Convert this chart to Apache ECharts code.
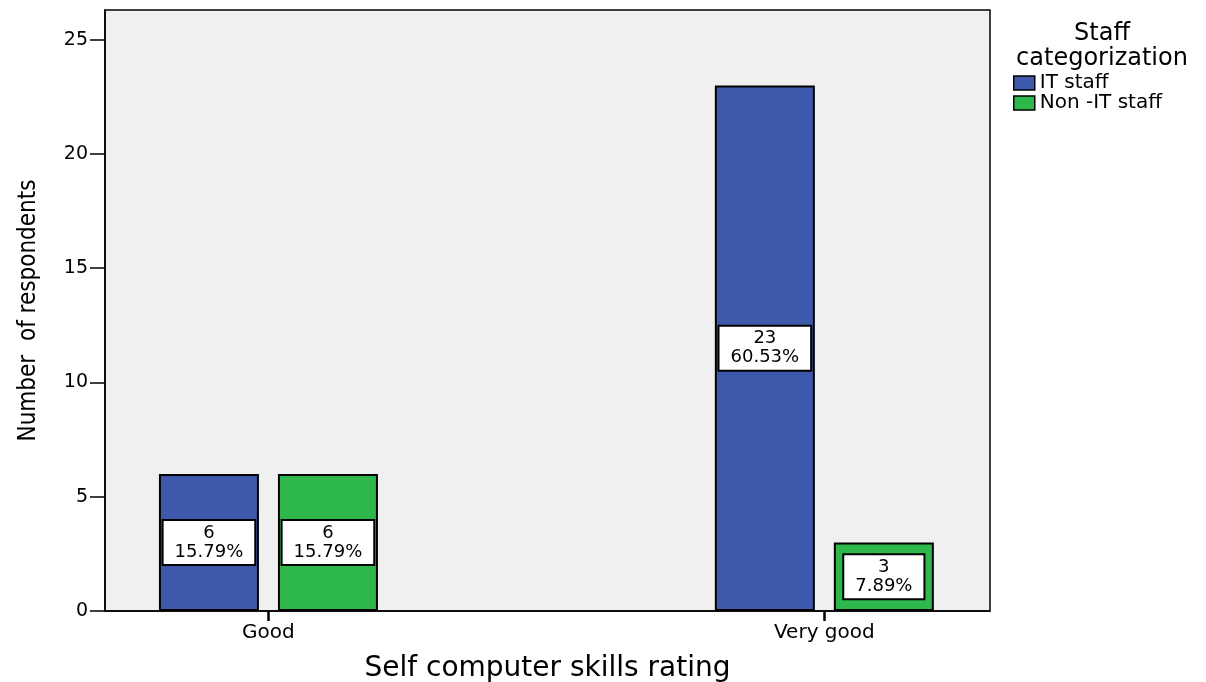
<!DOCTYPE html>
<html>
<head>
<meta charset="utf-8">
<script src="https://cdn.jsdelivr.net/npm/echarts@6/dist/echarts.min.js"></script>
<style>
html, body { margin: 0; padding: 0; background: #fff; }
#chart { width: 1206px; height: 682px; }
</style>
</head>
<body>
<div id="chart"></div>
<script>
// ratings on the x axis (placed at positions 1 and 2)
const ratings = ['Good', 'Very good']
const ratingPos = [1, 2]
const itStaff = [6, 23]
const nonItStaff = [6, 3]
const itPct = ['15.79%', '60.53%']
const nonItPct = ['15.79%', '7.89%']
const yTicks = [0, 5, 10, 15, 20, 25]

const font = '"DejaVu Sans", "Liberation Sans", sans-serif'

function pairs(values) {
	return values.map((v, i) => [ratingPos[i], v])
}

function labelOf(pcts) {
	return {
		show: true,
		position: 'inside',
		formatter: p => p.value[1] + '\n' + pcts[p.dataIndex],
		color: '#000',
		fontFamily: font,
		fontSize: 18,
		lineHeight: 19,
		backgroundColor: '#fff',
		borderColor: '#000',
		borderWidth: 2,
		padding: [3, 11, 2, 11]
	}
}

const chart = echarts.init(document.getElementById('chart'))
chart.setOption({
	animation: false,
	textStyle: { fontFamily: font },
	title: {
		text: 'Staff\ncategorization',
		left: 1097,
		top: 16,
		textAlign: 'center',
		textStyle: { fontFamily: font, fontSize: 24, fontWeight: 'normal', color: '#000', lineHeight: 25 }
	},
	legend: {
		orient: 'vertical',
		left: 1013,
		top: 73,
		padding: 0,
		itemWidth: 21,
		itemHeight: 14,
		itemGap: 0,
		itemStyle: { borderColor: '#000', borderWidth: 1.5 },
		icon: 'rect',
		textStyle: { fontFamily: font, fontSize: 20, color: '#000' },
		data: ['IT staff', 'Non -IT staff']
	},
	grid: {
		left: 105,
		top: 10,
		right: 216,
		bottom: 71,
		outerBoundsMode: 'none',
		show: true,
		backgroundColor: '#f0f0f0',
		borderColor: '#000',
		borderWidth: 1.5
	},
	xAxis: {
		type: 'value',
		min: 0.706,
		max: 2.298,
		name: 'Self computer skills rating',
		nameLocation: 'middle',
		nameGap: 44,
		nameTextStyle: { fontFamily: font, fontSize: 28, color: '#000' },
		axisLine: { show: true, lineStyle: { color: '#000', width: 1.5 } },
		axisTick: { show: true, customValues: ratingPos, length: 10, lineStyle: { color: '#000', width: 2.5 } },
		axisLabel: {
			customValues: ratingPos,
			formatter: v => ratings[Math.round(v) - 1] || '',
			color: '#000',
			fontSize: 20,
			margin: 12
		},
		splitLine: { show: false }
	},
	yAxis: {
		type: 'value',
		min: 0,
		max: 26.3,
		interval: 5,
		name: 'Number  of respondents',
		nameLocation: 'middle',
		nameGap: 64,
		nameTextStyle: { fontFamily: '"DejaVu Sans Condensed", sans-serif', fontSize: 24, color: '#000' },
		axisLine: { show: true, lineStyle: { color: '#000', width: 1.5 } },
		axisTick: { show: true, customValues: yTicks, length: 15, lineStyle: { color: '#000', width: 1.5 } },
		axisLabel: {
			customValues: yTicks,
			color: '#000',
			fontSize: 19,
			margin: 17
		},
		splitLine: { show: false }
	},
	series: [
		{
			name: 'IT staff',
			type: 'bar',
			barWidth: 100,
			barGap: '19%',
			itemStyle: { color: '#3e58ac', borderColor: '#000', borderWidth: 2 },
			label: labelOf(itPct),
			data: pairs(itStaff)
		},
		{
			name: 'Non -IT staff',
			type: 'bar',
			barWidth: 100,
			barGap: '19%',
			itemStyle: { color: '#2eb84b', borderColor: '#000', borderWidth: 2 },
			label: labelOf(nonItPct),
			data: pairs(nonItStaff)
		}
	]
})
</script>
</body>
</html>
